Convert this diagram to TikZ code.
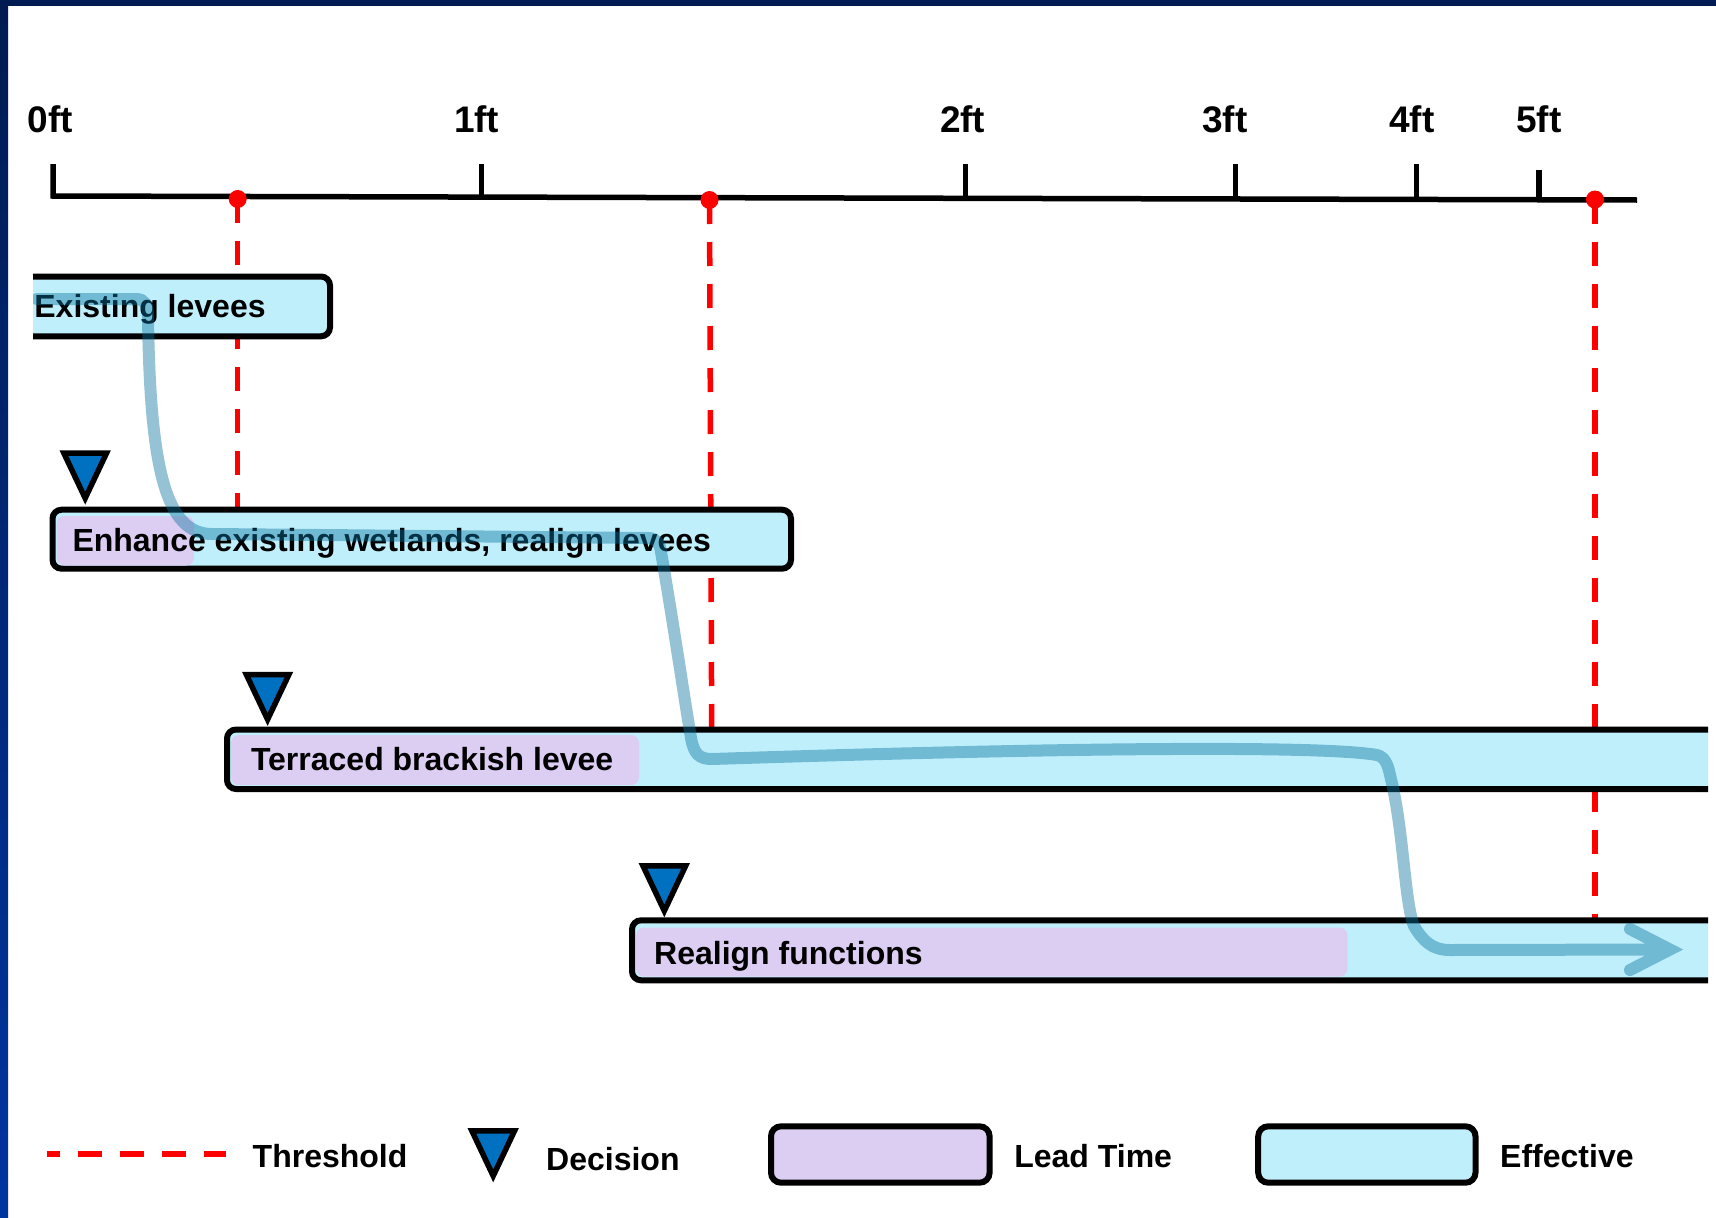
\documentclass[tikz,border=0pt]{standalone}
\usepackage{fontspec}
\setmainfont{Liberation Sans}
\definecolor{effc}{RGB}{192,239,252}
\definecolor{leadc}{RGB}{220,205,242}
\definecolor{decc}{RGB}{0,112,192}
\definecolor{flowc}{RGB}{10,117,159}
\definecolor{navytop}{RGB}{0,27,82}
\definecolor{navybot}{RGB}{0,53,160}
\tikzset{
  boxtext/.style={font=\fontsize{32}{38}\selectfont\bfseries, anchor=base west, inner sep=0pt, outer sep=0pt},
  axlabel/.style={font=\fontsize{37}{44}\selectfont\bfseries, anchor=base, inner sep=0pt, outer sep=0pt},
  effbox/.style={fill=effc, draw=black, line width=6pt, rounded corners=9pt},
  leadfill/.style={fill=leadc, rounded corners=8pt},
  thr/.style={draw=red, line width=5.5pt, dash pattern=on 24pt off 18pt},
  axisline/.style={draw=black, line width=5.5pt, line join=miter},
  dectrist/.style={fill=decc, draw=black, line width=5.5pt, line join=miter},
  flow/.style={draw=flowc, draw opacity=0.43, line width=12pt, line cap=round, line join=miter},
  dectri/.pic={\path[dectrist] (-21.3,-45) -- (21.3,-45) -- (0,0) -- cycle;}
}
\begin{document}
\begin{tikzpicture}[x=1pt,y=-1pt]
\useasboundingbox (0,0) rectangle (1716,1218);
\fill[white] (0,0) rectangle (1716,1218);

% axis labels
\node[axlabel] (l0) at (50.3,132.7) {0ft};
\node[axlabel] (l1) at (476.7,132.7) {1ft};
\node[axlabel] (l2) at (962.6,132.7) {2ft};
\node[axlabel] (l3) at (1225,132.7) {3ft};
\node[axlabel] (l4) at (1412,132.7) {4ft};
\node[axlabel] (l5) at (1538.8,132.7) {5ft};

\begin{scope}
\clip (33,-10) rectangle (1708,1230);

% axis
\path[axisline] (53,164) -- (53,196) -- (1637,200);
\path[axisline] (481.5,164) -- (481.5,197.1);
\path[axisline] (965.3,164) -- (965.3,198.3);
\path[axisline] (1235.6,164) -- (1235.6,199);
\path[axisline] (1416.7,164) -- (1416.7,199.4);
\path[axisline] (1539,170) -- (1539,199.8);

% thresholds
\coordinate (d1) at (237.7,199);
\coordinate (d2) at (709.5,200);
\coordinate (d3) at (1595,199.5);
\path[thr] (d1) -- (237.7,509.7);
\path[thr] (d2) -- (711.7,729.5);
\path[thr] (d3) -- (1595,920.3);
\fill[red] (d1) circle (9);
\fill[red] (d2) circle (9);
\fill[red] (d3) circle (9);

% boxes
\path[effbox] (15,276.5) rectangle (330,336.3);
\path[effbox] (52.5,509.7) rectangle (791,568.7);
\fill[leadfill] (56.5,516) rectangle (194,565.5);
\path[effbox] (227,729.5) rectangle (1740,789);
\fill[leadfill] (231,735) rectangle (639,785);
\path[effbox] (632,920.3) rectangle (1740,980.3);
\fill[leadfill] (636,927.5) rectangle (1347.5,976.5);

\node[boxtext] (tExisting) at (34.4,317.3) {Existing levees};
\node[boxtext] (tEnhance) at (72.5,551.2) {Enhance existing wetlands, realign levees};
\node[boxtext] (tTerraced) at (251,770.7) {Terraced brackish levee};
\node[boxtext] (tRealign) at (654.2,964.5) {Realign functions};

% decisions
\pic at (85.2,498.2) {dectri};
\pic at (267.6,719.5) {dectri};
\pic at (664.3,910.9) {dectri};

% flow arrow
\path[flow] (37,299) -- (136,299)
 .. controls (145,299) and (148,305) .. (148,316)
 .. controls (150,470) and (166,534) .. (212,534)
 -- (648,538)
 .. controls (657,538) and (660,544) .. (661,552)
 .. controls (672,615) and (683,690) .. (691,738)
 .. controls (694,754) and (699,759) .. (712,759)
 .. controls (1050,748) and (1320,745) .. (1377,755)
 .. controls (1385,757) and (1388,765) .. (1390,775)
 .. controls (1404,830) and (1404,900) .. (1414,926)
 .. controls (1423,941) and (1432,950) .. (1450,950)
 -- (1670,949.5)
 (1630,929) -- (1670,949.5) -- (1630,970);

% legend
\path[thr, dash phase=11pt] (46.7,1154) -- (226,1154);
\node[boxtext] (gThr) at (252.7,1167.3) {Threshold};
\pic at (493.2,1175.9) {dectri};
\node[boxtext] (gDec) at (546.2,1170) {Decision};
\path[draw=black, fill=leadc, line width=6pt, rounded corners=10pt] (771,1126.3) rectangle (989.6,1182.7);
\node[boxtext] (gLead) at (1014.3,1167.3) {Lead Time};
\path[draw=black, fill=effc, line width=6pt, rounded corners=10pt] (1258.2,1126.3) rectangle (1475.5,1182.7);
\node[boxtext] (gEff) at (1500.2,1167.3) {Effective};
\end{scope}

% frame
\shade[top color=navytop, bottom color=navybot] (0,0) rectangle (8,1218);
\fill[navytop] (0,0) rectangle (1716,6);
\end{tikzpicture}
\end{document}
